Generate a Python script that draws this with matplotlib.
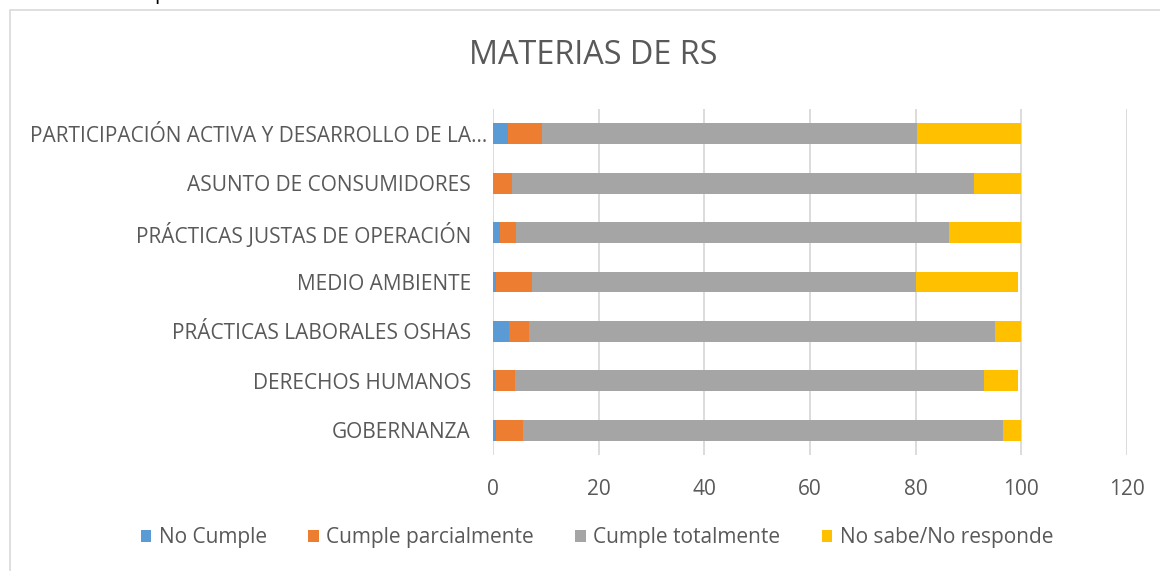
"""
Gráfico de barras apiladas: materias de RS
"""
import matplotlib
matplotlib.use('Agg')
import matplotlib.pyplot as plt
from matplotlib.patches import Rectangle, Patch
from matplotlib.transforms import ScaledTranslation

# Datos (%)
categorias = [
    'GOBERNANZA',
    'DERECHOS HUMANOS',
    'PRÁCTICAS LABORALES OSHAS',
    'MEDIO AMBIENTE',
    'PRÁCTICAS JUSTAS DE OPERACIÓN',
    'ASUNTO DE CONSUMIDORES',
    'PARTICIPACIÓN ACTIVA Y DESARROLLO DE LA…',
]
no_cumple = [0.6, 0.4, 3.0, 0.6, 1.4, 0.0, 2.8]
cumple_parcial = [5.0, 3.7, 3.9, 6.8, 3.0, 3.6, 6.4]
cumple_total = [90.9, 88.9, 88.2, 72.6, 81.9, 87.4, 71.0]
no_sabe = [3.4, 6.4, 4.9, 19.4, 13.7, 9.0, 19.8]
series = ['No Cumple', 'Cumple parcialmente', 'Cumple totalmente', 'No sabe/No responde']
xticks = [0, 20, 40, 60, 80, 100, 120]

colores = ['#5B9BD5', '#ED7D31', '#A5A5A5', '#FFC000']
texto = '#595959'
rejilla = '#D9D9D9'

plt.rcParams['font.family'] = ['Open Sans', 'DejaVu Sans']

W, H = 1160, 571
fig = plt.figure(figsize=(W / 100, H / 100), dpi=100)

# Marco del área del gráfico
fig.patches.append(Rectangle((10 / W, -0.1), 1.2, 1 - 10 / H + 0.1,
                             transform=fig.transFigure, fill=False,
                             edgecolor=rejilla, linewidth=1.2))

# Resto del texto del documento cortado arriba
fig.text(154 / W, 1 + 0.5 / H, 'p', va='baseline', ha='left', fontsize=15, color='black')

ax = fig.add_axes([493 / W, 1 - 455 / H, (1127 - 493) / W, (455 - 109) / H])

valores = [no_cumple, cumple_parcial, cumple_total, no_sabe]
izquierda = [0.0] * len(categorias)
y = list(range(len(categorias)))
for nombre, vals, color in zip(series, valores, colores):
    ax.barh(y, vals, left=izquierda, height=0.42, color=color, label=nombre, zorder=3)
    izquierda = [a + b for a, b in zip(izquierda, vals)]

ax.set_xlim(0, 120)
ax.set_ylim(-0.5, len(categorias) - 0.5)
ax.set_xticks(xticks)
ax.set_yticks(y)
ax.set_yticklabels(categorias)

ax.grid(axis='x', color=rejilla, linewidth=1.3, zorder=0)
ax.grid(axis='y', visible=False)
for s in ax.spines.values():
    s.set_visible(False)
ax.tick_params(axis='both', length=0, colors=texto, labelsize=15)
ax.tick_params(axis='y', pad=16)
ax.tick_params(axis='x', pad=17)

# La etiqueta truncada sobresale más a la derecha
lbl = ax.get_yticklabels()[-1]
lbl.set_transform(lbl.get_transform() + ScaledTranslation(16 / 100, 0, fig.dpi_scale_trans))

fig.text(593 / W, 1 - 55 / H, 'MATERIAS DE RS', ha='center', va='center',
         fontsize=23.3, color=texto)

handles = [Patch(facecolor=c, label=n) for n, c in zip(series, colores)]
fig.legend(handles=handles, loc='center', bbox_to_anchor=(597 / W, 1 - 538 / H),
           ncol=4, frameon=False, fontsize=15, labelcolor=texto,
           handlelength=0.5, handleheight=0.5, handletextpad=0.35, columnspacing=2.0)

fig.savefig('out.png', dpi=100)
